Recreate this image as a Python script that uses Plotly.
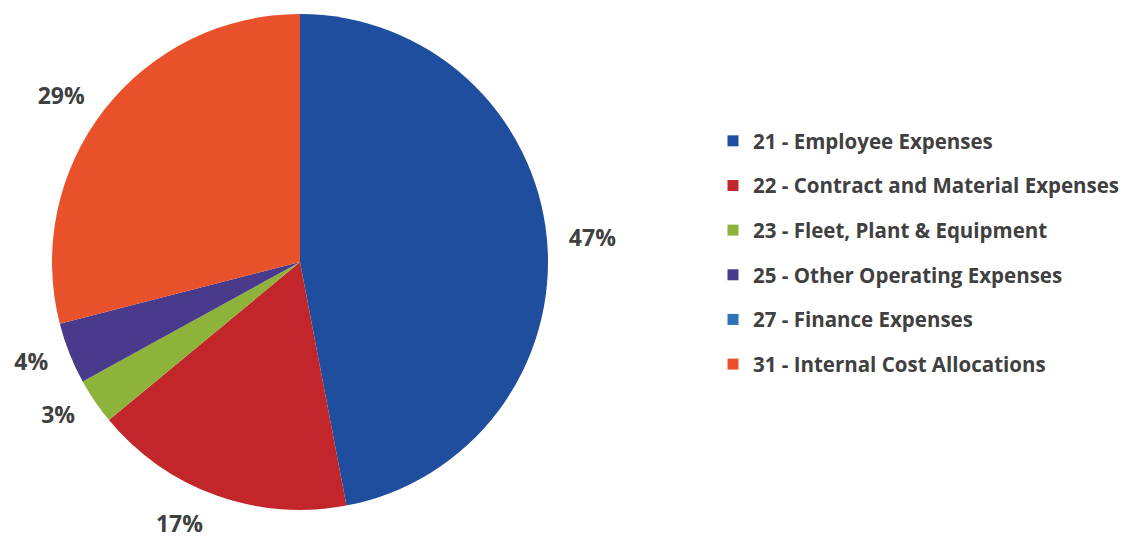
import plotly.graph_objects as go

# Operating expense breakdown by account group (share of total, %)
categories = [
    "21 - Employee Expenses",
    "22 - Contract and Material Expenses",
    "23 - Fleet, Plant & Equipment",
    "25 - Other Operating Expenses",
    "27 - Finance Expenses",
    "31 - Internal Cost Allocations",
]
shares = [47, 17, 3, 4, 0, 29]
colors = ["#1F4E9E", "#C3262A", "#8DB33B", "#4A3A8C", "#2B74B8", "#E9512A"]

TEXT_COLOR = "#404040"
FONT = "Open Sans"

# Only non-empty slices get a percentage label
label_templates = ["%{percent:.0%}" if v > 0 else "" for v in shares]

fig = go.Figure()

# The pie itself
fig.add_trace(go.Pie(
    labels=categories, values=shares, sort=False,
    direction="clockwise", rotation=0,
    marker=dict(colors=colors, line=dict(width=0)),
    textinfo="none", showlegend=False,
    domain=dict(x=[52 / 1143, 548 / 1143], y=[28 / 538, 524 / 538]),
))

# Transparent outer ring that carries the percentage labels a little
# further out from the pie edge
fig.add_trace(go.Pie(
    labels=categories, values=shares, sort=False,
    direction="clockwise", rotation=0,
    marker=dict(colors=["rgba(0,0,0,0)"] * len(categories), line=dict(width=0)),
    texttemplate=label_templates, textposition="outside",
    outsidetextfont=dict(family=FONT, size=23, color=TEXT_COLOR, weight="bold"),
    showlegend=False, hoverinfo="skip",
    domain=dict(x=[0, 600 / 1143], y=[14 / 538, 1]),
))

# Legend entries as square swatches, one group each for even spacing
for name, color in zip(categories, colors):
    fig.add_trace(go.Scatter(
        x=[None], y=[None], mode="markers", name=name, legendgroup=name,
        marker=dict(symbol="square", size=11, color=color),
    ))

fig.update_layout(
    width=1143, height=538,
    margin=dict(l=0, r=0, t=0, b=0, pad=0, autoexpand=False),
    paper_bgcolor="white", plot_bgcolor="white",
    xaxis=dict(visible=False), yaxis=dict(visible=False),
    legend=dict(
        x=713 / 1143, y=1 - 121 / 538, xanchor="left", yanchor="top",
        traceorder="grouped", tracegroupgap=15,
        font=dict(family=FONT, size=20.5, color=TEXT_COLOR, weight="bold"),
        itemclick=False, itemdoubleclick=False,
    ),
)

fig.write_html("out.html")
